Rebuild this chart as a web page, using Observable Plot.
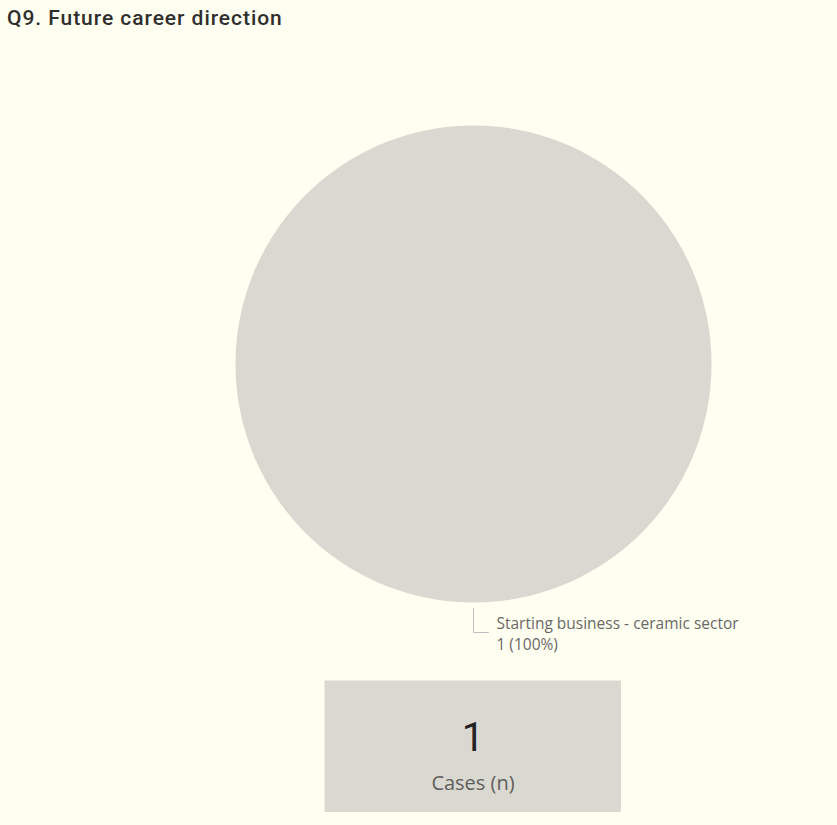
<!DOCTYPE html>
<html>
<head>
<meta charset="utf-8">
<script src="https://cdn.jsdelivr.net/npm/d3@7"></script>
<script src="https://cdn.jsdelivr.net/npm/@observablehq/plot@0.6"></script>
<style>
  html, body { margin: 0; padding: 0; background: #FFFFF1; }
  body { width: 837px; height: 825px; position: relative; overflow: hidden; }
  #title { position: absolute; left: 7px; top: 6px; font-family: Roboto, sans-serif; font-weight: 500; font-size: 21px; letter-spacing: 0.95px; color: #2F2E2D; white-space: nowrap; }
  #pie { position: absolute; left: 0; top: 40px; }
  #card { position: absolute; left: 324px; top: 680px; }
</style>
</head>
<body>
<div id="title"></div>
<div id="pie"></div>
<div id="card"></div>
<script>
// ---- data ----
const titleText = "Q9. Future career direction";
const categories = ["Starting business - ceramic sector"];
const values = [1];
const sliceColors = ["#D9D9D1"];
const cardLabel = "Cases (n)";

document.getElementById("title").textContent = titleText;

const total = d3.sum(values);
const pie = d3.pie().sort(null).value(d => d.value);
const arcs = pie(categories.map((c, i) => ({category: c, value: values[i], color: sliceColors[i]})));

// slice outlines in unit coordinates (y up, angle 0 at top, clockwise)
const slicePts = [];
arcs.forEach(a => {
  const n = Math.max(2, Math.ceil((a.endAngle - a.startAngle) / (Math.PI / 180)));
  slicePts.push({category: a.data.category, color: a.data.color, x: 0, y: 0});
  for (let k = 0; k <= n; k++) {
    const t = a.startAngle + (a.endAngle - a.startAngle) * k / n;
    slicePts.push({category: a.data.category, color: a.data.color, x: Math.sin(t), y: Math.cos(t)});
  }
});

// leader lines and labels
const W = 837, H = 620;
const mL = 235, mR = 126, mT = 85, mB = 58;
const pxPerUnit = (H - mT - mB) / 2;
const leader = [];
const labels = [];
arcs.forEach(a => {
  const mid = (a.startAngle + a.endAngle) / 2;
  const ax = Math.sin(mid), ay = Math.cos(mid);
  const p0 = {x: ax * (1 + 6 / pxPerUnit), y: ay * (1 + 6 / pxPerUnit)};
  const elbowY = p0.y - 24 / pxPerUnit;
  leader.push({category: a.data.category, x: p0.x, y: p0.y});
  leader.push({category: a.data.category, x: p0.x, y: elbowY});
  leader.push({category: a.data.category, x: p0.x + 15 / pxPerUnit, y: elbowY});
  labels.push({
    x: p0.x + 15 / pxPerUnit, y: elbowY,
    text: a.data.category + "\n" + a.data.value + " (" + d3.format(".0%")(a.data.value / total) + ")"
  });
});

const chart = Plot.plot({
  width: W, height: H,
  marginLeft: mL, marginRight: mR, marginTop: mT, marginBottom: mB,
  x: {domain: [-1, 1], axis: null},
  y: {domain: [-1, 1], axis: null},
  style: {background: "transparent", fontFamily: "'Open Sans', sans-serif"},
  marks: [
    Plot.line(slicePts, {x: "x", y: "y", z: "category", fill: "color", stroke: "none", curve: "linear"}),
    Plot.line(leader, {x: "x", y: "y", z: "category", stroke: "#BDBDBD", strokeWidth: 1}),
    Plot.text(labels, {x: "x", y: "y", text: "text", textAnchor: "start", lineAnchor: "middle", dx: 8, dy: 0, fontSize: 15.5, fill: "#6A6866", lineHeight: 1.35})
  ]
});
document.getElementById("pie").appendChild(chart);

// card
const card = Plot.plot({
  width: 297, height: 132,
  margin: 0,
  x: {domain: [0, 1], axis: null},
  y: {domain: [0, 1], axis: null},
  style: {background: "transparent"},
  marks: [
    Plot.frame({fill: "#D9D9D1", stroke: "none"}),
    Plot.text([String(total)], {x: () => 0.5, y: () => 0.56, text: d => d, fontSize: 40, fill: "#252423", fontFamily: "Roboto, sans-serif", fontWeight: 400}),
    Plot.text([cardLabel], {x: () => 0.5, y: () => 0.22, text: d => d, fontSize: 20, fill: "#605E5C", fontFamily: "'Open Sans', sans-serif"})
  ]
});
document.getElementById("card").appendChild(card);
</script>
</body>
</html>
